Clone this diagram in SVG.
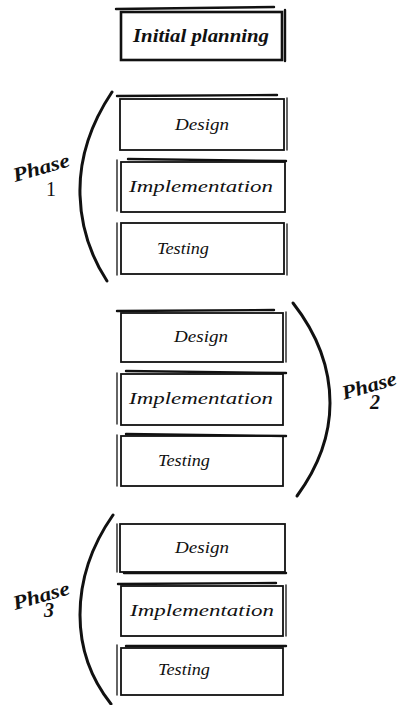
<svg xmlns="http://www.w3.org/2000/svg" width="399" height="705" viewBox="0 0 399 705">
<style>
.box{fill:#fff;stroke:#111;stroke-width:1.8}
.acc{fill:none;stroke:#111;stroke-width:2.4;stroke-linecap:round}
.thin{fill:none;stroke:#111;stroke-width:1.3;stroke-linecap:round}
.lbl{font-family:"Liberation Serif","DejaVu Serif",serif;font-style:italic;font-size:17px;fill:#111;text-anchor:middle}
.ph{font-family:"Liberation Serif","DejaVu Serif",serif;font-style:italic;font-size:20px;fill:#111;text-anchor:middle;font-weight:bold}
.arc{fill:none;stroke:#111;stroke-width:3;stroke-linecap:round}
</style>
<rect width="399" height="705" fill="#fff"/>
<g id="initial">
<rect class="box" x="121" y="12" width="161" height="48" style="stroke-width:2.6"/>
<path class="acc" d="M116 9 L274 7"/>
<path class="acc" d="M285 10 L285 61"/>
<text class="lbl" x="201" y="42" style="font-weight:bold;font-size:18px" textLength="136" lengthAdjust="spacingAndGlyphs">Initial planning</text>
</g>
<g id="p1-design">
<rect class="box" x="120" y="99" width="164" height="51"/>
<path class="acc" d="M117 96 L277 95"/>
<path class="thin" d="M287 98 L287 150"/>
<text class="lbl" x="202" y="130" textLength="54" lengthAdjust="spacingAndGlyphs">Design</text>
</g>
<g id="p1-impl">
<rect class="box" x="121" y="162" width="164" height="50"/>
<path class="acc" d="M128 159 L286 161"/>
<path class="thin" d="M117 160 L117 211"/>
<text class="lbl" x="201" y="192" textLength="144" lengthAdjust="spacingAndGlyphs">Implementation</text>
</g>
<g id="p1-test">
<rect class="box" x="121" y="223" width="163" height="51"/>
<path class="thin" d="M117 223 L117 275"/>
<path class="thin" d="M287 224 L287 275"/>
<text class="lbl" x="183" y="254" textLength="52" lengthAdjust="spacingAndGlyphs">Testing</text>
</g>
<g id="p2-design">
<rect class="box" x="121" y="313" width="162" height="49"/>
<path class="acc" d="M117 311 L274 310"/>
<path class="thin" d="M286 312 L286 362"/>
<text class="lbl" x="201" y="342" textLength="54" lengthAdjust="spacingAndGlyphs">Design</text>
</g>
<g id="p2-impl">
<rect class="box" x="121" y="374" width="162" height="51"/>
<path class="acc" d="M126 371 L286 373"/>
<path class="thin" d="M117 373 L117 424"/>
<text class="lbl" x="201" y="404" textLength="144" lengthAdjust="spacingAndGlyphs">Implementation</text>
</g>
<g id="p2-test">
<rect class="box" x="121" y="436" width="162" height="50"/>
<path class="acc" d="M126 434 L286 436"/>
<path class="thin" d="M117 435 L117 486"/>
<text class="lbl" x="184" y="466" textLength="52" lengthAdjust="spacingAndGlyphs">Testing</text>
</g>
<g id="p3-design">
<rect class="box" x="120" y="524" width="165" height="48"/>
<path class="acc" d="M124 573 L286 573"/>
<path class="thin" d="M117 524 L117 572"/>
<text class="lbl" x="202" y="553" textLength="54" lengthAdjust="spacingAndGlyphs">Design</text>
</g>
<g id="p3-impl">
<rect class="box" x="121" y="586" width="162" height="50"/>
<path class="acc" d="M118 584 L276 583"/>
<path class="thin" d="M286 585 L286 636"/>
<text class="lbl" x="202" y="616" textLength="144" lengthAdjust="spacingAndGlyphs">Implementation</text>
</g>
<g id="p3-test">
<rect class="box" x="121" y="648" width="162" height="47"/>
<path class="acc" d="M126 646 L286 646"/>
<path class="thin" d="M117 645 L117 695"/>
<text class="lbl" x="184" y="675" textLength="52" lengthAdjust="spacingAndGlyphs">Testing</text>
</g>
<g id="phase1">
<path class="arc" d="M112 92 C90 125 79 160 80 195 C81 230 92 258 107 281"/>
<text class="ph" transform="translate(43 174) rotate(-16)" textLength="58" lengthAdjust="spacingAndGlyphs">Phase</text>
<text class="ph" x="51" y="196" style="font-style:normal;font-weight:normal">1</text>
</g>
<g id="phase2">
<path class="arc" d="M293 303 C318 335 330 370 330 403 C330 440 316 470 297 496"/>
<text class="ph" transform="translate(371 392) rotate(-16)" textLength="56" lengthAdjust="spacingAndGlyphs">Phase</text>
<text class="ph" x="375" y="409">2</text>
</g>
<g id="phase3">
<path class="arc" d="M113 515 C92 545 80 580 80 615 C80 650 92 680 111 704"/>
<text class="ph" transform="translate(43 602) rotate(-16)" textLength="58" lengthAdjust="spacingAndGlyphs">Phase</text>
<text class="ph" x="49" y="617">3</text>
</g>
</svg>
